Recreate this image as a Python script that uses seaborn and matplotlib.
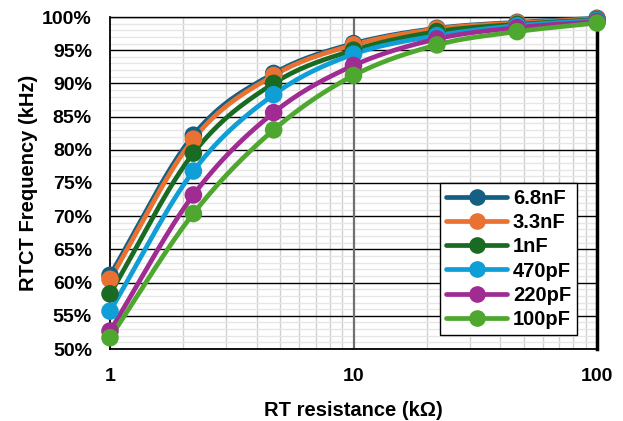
import numpy as np
import pandas as pd
import matplotlib
matplotlib.use("Agg")
import matplotlib.pyplot as plt
from matplotlib.lines import Line2D
from matplotlib.ticker import FixedLocator, NullFormatter
import seaborn as sns

rt_kohm = [1, 2.2, 4.7, 10, 22, 47, 100]
series_names = ["6.8nF", "3.3nF", "1nF", "470pF", "220pF", "100pF"]
v_6n8 = [61.1, 82.2, 91.5, 96.0, 98.3, 99.2, 99.8]
v_3n3 = [60.5, 81.6, 91.2, 95.8, 98.2, 99.1, 99.7]
v_1n = [58.3, 79.5, 90.0, 95.0, 97.8, 98.9, 99.6]
v_470p = [55.7, 76.8, 88.3, 94.4, 97.2, 98.7, 99.5]
v_220p = [52.7, 73.2, 85.6, 92.7, 96.7, 98.4, 99.3]
v_100p = [51.7, 70.4, 83.0, 91.2, 95.8, 97.8, 99.1]
values = [v_6n8, v_3n3, v_1n, v_470p, v_220p, v_100p]
colors = ["#156082", "#E97132", "#196B24", "#0F9ED5", "#A02B93", "#4EA72E"]

sns.set_theme(style="white")
plt.rcParams['font.family'] = ['Liberation Sans', 'DejaVu Sans']
plt.rcParams['font.weight'] = 'bold'
plt.rcParams['text.color'] = 'black'
plt.rcParams['axes.labelcolor'] = 'black'
plt.rcParams['xtick.color'] = 'black'
plt.rcParams['ytick.color'] = 'black'

fig = plt.figure(figsize=(6.23, 4.21), dpi=100)
ax = fig.add_axes([110/623, 72/421, 487/623, 332/421])

rows = []
for name, vals in zip(series_names, values):
    for x, y in zip(rt_kohm, vals):
        rows.append({"RT": x, "Freq": y, "Cap": name})
df = pd.DataFrame(rows)


def catmull(xs, ys, n=30):
    lx = np.log10(np.asarray(xs, float))
    y = np.asarray(ys, float)
    px = np.concatenate([[2*lx[0]-lx[1]], lx, [2*lx[-1]-lx[-2]]])
    py = np.concatenate([[2*y[0]-y[1]], y, [2*y[-1]-y[-2]]])
    ox, oy = [], []
    for i in range(1, len(px)-2):
        t = np.linspace(0, 1, n, endpoint=False)
        for P, out in ((px, ox), (py, oy)):
            p0, p1, p2, p3 = P[i-1], P[i], P[i+1], P[i+2]
            out.extend(0.5*((2*p1) + (-p0+p2)*t + (2*p0-5*p1+4*p2-p3)*t**2 + (-p0+3*p1-3*p2+p3)*t**3))
    ox.append(lx[-1]); oy.append(y[-1])
    return 10**np.array(ox), np.array(oy)


for name, col in zip(series_names, colors):
    sub = df[df.Cap == name]
    sx, sy = catmull(sub.RT.values, sub.Freq.values)
    ax.plot(sx, sy, color=col, lw=3.4, zorder=3, solid_capstyle='round', clip_on=False)
    sns.scatterplot(data=sub, x="RT", y="Freq", color=col, s=160, edgecolor='none',
                    ax=ax, zorder=4, legend=False, clip_on=False)

ax.set_xscale('log')
ax.set_xlim(1, 100)
ax.set_ylim(50, 100)
ax.yaxis.set_major_locator(FixedLocator(np.arange(50, 101, 5)))
ax.yaxis.set_minor_locator(FixedLocator(np.arange(50, 101, 1)))
ax.set_yticklabels([f"{v}%" for v in range(50, 101, 5)])
ax.xaxis.set_major_locator(FixedLocator([1, 10, 100]))
ax.xaxis.set_minor_locator(FixedLocator([m*d for d in (1, 10) for m in range(2, 10)]))
ax.xaxis.set_minor_formatter(NullFormatter())
ax.set_xticklabels(["1", "10", "100"])

ax.grid(which='minor', axis='y', color='#E6E6E6', lw=1.0, zorder=0)
ax.grid(which='minor', axis='x', color='#D0D0D0', lw=1.0, zorder=0)
ax.grid(which='major', axis='y', color='black', lw=1.0, zorder=1)
ax.axvline(10, color='#707070', lw=1.6, zorder=1.5)
ax.set_axisbelow(True)
ax.tick_params(which='both', length=0, labelsize=14)
ax.tick_params(axis='x', pad=13.5)
ax.tick_params(axis='y', pad=13)
for lab in ax.get_xticklabels() + ax.get_yticklabels():
    lab.set_fontweight('bold')
for s in ax.spines.values():
    s.set_color('black')
    s.set_zorder(2)
ax.spines['left'].set_linewidth(1.3)
ax.spines['bottom'].set_linewidth(1.3)
ax.spines['top'].set_linewidth(1.0)
ax.spines['right'].set_linewidth(2.5)

ax.set_xlabel("RT resistance (kΩ)", fontsize=14.5, fontweight='bold', labelpad=12)
ax.set_ylabel("RTCT Frequency (kHz)", fontsize=14.5, fontweight='bold', labelpad=3)

handles = [Line2D([0], [0], color=c, lw=3.4, marker='o', markersize=12, markeredgewidth=0)
           for c in colors]
leg = ax.legend(handles, series_names, loc='lower right', bbox_to_anchor=(0.959, 0.042),
                frameon=True, fancybox=False, edgecolor='black', framealpha=1,
                prop={'weight': 'bold', 'size': 14.5}, handlelength=3.0,
                labelspacing=0.26, borderpad=0.3, handletextpad=0.3, borderaxespad=0)
leg.get_frame().set_linewidth(1.0)
leg.set_zorder(6)

fig.savefig("out.png", dpi=100)
